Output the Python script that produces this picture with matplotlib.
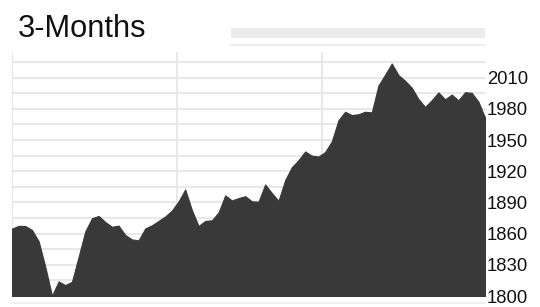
import matplotlib.pyplot as plt
import matplotlib.patches as patches
from matplotlib.lines import Line2D
import numpy as np

plt.rcParams['font.family'] = ['Liberation Sans', 'DejaVu Sans']

# 3-month index closes, one per trading day
closes = [1864.8, 1867.5, 1867.3, 1863.5, 1852.7, 1828.0, 1800.3, 1814.0, 1810.5, 1813.7,
          1837.8, 1862.2, 1874.8, 1877.0, 1871.2, 1866.6, 1867.7, 1858.7, 1854.4, 1853.6,
          1865.0, 1868.0, 1872.2, 1876.5, 1882.2, 1891.0, 1902.5, 1882.7, 1867.4, 1872.2,
          1872.8, 1880.3, 1896.8, 1891.9, 1894.2, 1896.0, 1891.1, 1890.7, 1907.3, 1899.0,
          1891.6, 1911.5, 1923.9, 1930.6, 1939.0, 1935.0, 1934.1, 1938.5, 1948.7, 1969.1,
          1977.2, 1974.0, 1974.8, 1977.2, 1976.6, 2002.5, 2012.8, 2023.6, 2012.5, 2007.0,
          2000.4, 1989.5, 1981.8, 1988.3, 1995.8, 1989.2, 1993.7, 1988.2, 1996.0, 1995.4,
          1987.0, 1971.6]
days = np.arange(len(closes))
month_starts = [0, 24.7, 46.6]
y_ticks = [1800, 1830, 1860, 1890, 1920, 1950, 1980, 2010]
y_grid = list(range(1800, 2035, 15))
title = "3-Months"

fig = plt.figure(figsize=(5.4, 3.07), dpi=100)
ax = fig.add_axes([0.0222, 0.0358, 0.876, 0.796])

for g in y_grid:
    ax.axhline(g, color='#e8e8e8', lw=1.5, zorder=0)
for m in month_starts:
    ax.axvline(m, color='#e8e8e8', lw=1.5, zorder=0)

ax.fill_between(days, closes, 1800, color='#393939', lw=0.8, edgecolor='#393939', zorder=2)

ax.set_xlim(0, len(closes) - 1)
ax.set_ylim(1800, 2035)
ax.set_xticks([])
ax.yaxis.tick_right()
ax.set_yticks(y_ticks)
ax.set_yticklabels([str(t) for t in y_ticks], fontsize=13.3, color='#111111')
ax.tick_params(axis='y', length=0, pad=1.5)
for s in ax.spines.values():
    s.set_visible(False)

# title and range selector bits
fig.text(18 / 540, 1 - 37 / 307, title, fontsize=22.2, va='baseline', ha='left', color='#111111')
fig.patches.append(patches.Rectangle((231 / 540, 1 - 38 / 307), 254 / 540, 10 / 307,
                                     transform=fig.transFigure, color='#ebebeb', lw=0))
fig.lines.append(Line2D([231 / 540, 485 / 540], [1 - 44.5 / 307] * 2,
                        transform=fig.transFigure, color='#eeeeee', lw=1.5))
fig.lines.append(Line2D([12 / 540, 485 / 540], [1 - 303 / 307] * 2,
                        transform=fig.transFigure, color='#f0f0f0', lw=1.5))

fig.savefig('out.png', dpi=100)
